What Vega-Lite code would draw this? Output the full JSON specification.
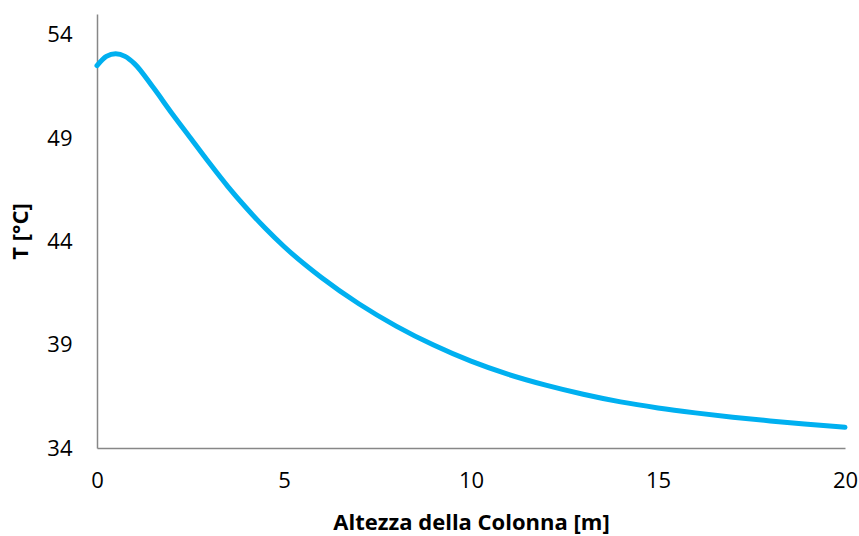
{
  "$schema": "https://vega.github.io/schema/vega-lite/v6.json",
  "width": 748,
  "height": 434,
  "autosize": "none",
  "padding": {"left": 97, "top": 14, "right": 14, "bottom": 88},
  "background": "white",
  "config": {"view": {"stroke": null}},
  "data": {"values": [
    {"h": 0, "T": 52.5}, {"h": 0.25, "T": 52.95}, {"h": 0.5, "T": 53.08}, {"h": 0.75, "T": 52.95},
    {"h": 1.0, "T": 52.6}, {"h": 1.5, "T": 51.45}, {"h": 2.0, "T": 50.2}, {"h": 2.5, "T": 49.0},
    {"h": 3.0, "T": 47.8}, {"h": 3.5, "T": 46.65}, {"h": 4.0, "T": 45.6}, {"h": 4.5, "T": 44.63},
    {"h": 5.0, "T": 43.75}, {"h": 6.0, "T": 42.25}, {"h": 7.0, "T": 40.98}, {"h": 8.0, "T": 39.9},
    {"h": 9.0, "T": 38.98}, {"h": 10.0, "T": 38.2}, {"h": 11.0, "T": 37.56}, {"h": 12.0, "T": 37.04},
    {"h": 13.0, "T": 36.6}, {"h": 14.0, "T": 36.23}, {"h": 15.0, "T": 35.94}, {"h": 16.0, "T": 35.7},
    {"h": 17.0, "T": 35.49}, {"h": 18.0, "T": 35.31}, {"h": 19.0, "T": 35.15}, {"h": 20.0, "T": 35.0}
  ]},
  "mark": {"type": "line", "color": "#00B0F0", "strokeWidth": 5, "interpolate": "monotone", "strokeCap": "round"},
  "encoding": {
    "x": {
      "field": "h", "type": "quantitative",
      "scale": {"domain": [0, 20], "nice": false},
      "axis": {
        "title": "Altezza della Colonna [m]",
        "values": [0, 5, 10, 15, 20],
        "grid": false, "ticks": false,
        "domainColor": "#878787", "domainWidth": 1.5,
        "labelFont": "Open Sans", "labelFontSize": 22, "labelColor": "#000000",
        "labelPadding": 22, "labelFlush": false,
        "titleFont": "Open Sans", "titleFontSize": 22, "titleFontWeight": "bold", "titleColor": "#000000",
        "titleY": 74, "titleBaseline": "middle"
      }
    },
    "y": {
      "field": "T", "type": "quantitative",
      "scale": {"domain": [34, 55], "nice": false, "zero": false},
      "axis": {
        "title": "T [°C]",
        "values": [34, 39, 44, 49, 54],
        "grid": false, "ticks": false,
        "domainColor": "#878787", "domainWidth": 1.5,
        "labelFont": "Open Sans", "labelFontSize": 22, "labelColor": "#000000",
        "labelPadding": 25, "labelFlush": false,
        "titleFont": "Open Sans", "titleFontSize": 22, "titleFontWeight": "bold", "titleColor": "#000000",
        "titleX": -77, "titleY": 217, "titleBaseline": "middle", "titleAngle": -90, "titleAlign": "center"
      }
    }
  }
}
